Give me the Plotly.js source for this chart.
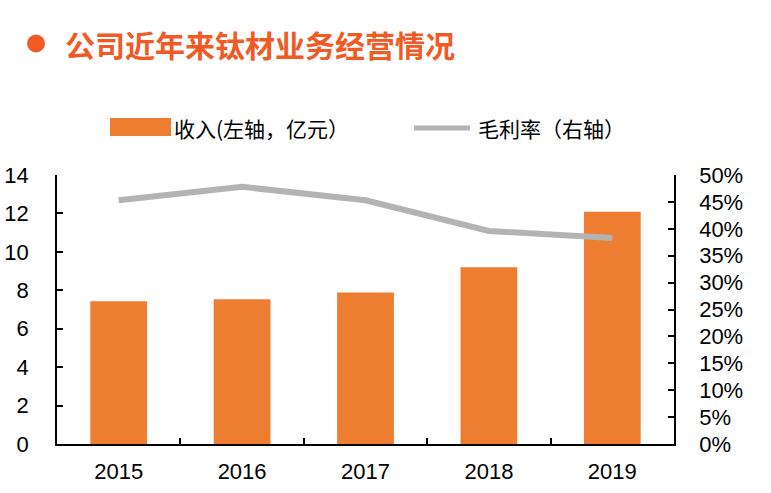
<!DOCTYPE html>
<html>
<head>
<meta charset="utf-8">
<script src="https://cdn.plot.ly/plotly-3.0.1.min.js"></script>
<style>
  html, body { margin: 0; padding: 0; background: #fff; }
  #chart { width: 771px; height: 493px; }
</style>
</head>
<body>
<div id="chart"></div>
<script>
// 公司近年来钛材业务经营情况 — revenue (bars, left) + gross margin (line, right)

const years = ['2015', '2016', '2017', '2018', '2019'];
const revenue = [7.43, 7.53, 7.88, 9.20, 12.09];      // 亿元
const grossMargin = [0.453, 0.478, 0.453, 0.396, 0.383];
const seriesNames = ['收入(左轴，亿元）', '毛利率（右轴）'];
const chartTitle = '公司近年来钛材业务经营情况';

const ORANGE = '#ED7D31';
const GREY = '#B3B3B3';
const TITLE_COLOR = '#F15A24';
const tickFont = { family: 'Liberation Sans, Arial, sans-serif', size: 22, color: '#000' };
const cjkFont = 'Noto Sans CJK SC, sans-serif';

// plot area in px, used to place the hand-made legend and title
const W = 771, H = 493;
const M = { l: 57, r: 97, t: 175, b: 49 };
const px = x => (x - M.l) / (W - M.l - M.r);
const py = y => (H - M.b - y) / (H - M.t - M.b);

const barTrace = {
  type: 'bar', x: years, y: revenue, name: seriesNames[0],
  marker: { color: ORANGE, line: { width: 0 } },
  hoverinfo: 'x+y'
};

const lineTrace = {
  type: 'scatter', mode: 'lines', x: years, y: grossMargin, name: seriesNames[1],
  yaxis: 'y2',
  line: { color: GREY, width: 6 },
  hoverinfo: 'x+y'
};

const layout = {
  width: W, height: H,
  margin: M,
  paper_bgcolor: '#fff', plot_bgcolor: '#fff',
  showlegend: false,
  bargap: 0.54,
  xaxis: {
    type: 'category',
    showline: true, linecolor: '#000', linewidth: 1.5,
    ticks: 'inside', tickson: 'boundaries', ticklen: 6, tickwidth: 1.5, tickcolor: '#000',
    tickfont: tickFont, ticklabelstandoff: 7,
    showgrid: false, zeroline: false
  },
  yaxis: {
    range: [0, 14], dtick: 2,
    showline: true, linecolor: '#000', linewidth: 1.5,
    ticks: 'inside', ticklen: 6, tickwidth: 1.5, tickcolor: '#000',
    tickfont: tickFont, ticklabelstandoff: 22,
    showgrid: false, zeroline: false
  },
  yaxis2: {
    overlaying: 'y', side: 'right',
    range: [0, 0.5], dtick: 0.05, tickformat: '.0%',
    showline: true, linecolor: '#000', linewidth: 1.5,
    ticks: 'inside', ticklen: 6, tickwidth: 1.5, tickcolor: '#000',
    tickfont: tickFont, ticklabelstandoff: 19,
    showgrid: false, zeroline: false
  },
  shapes: [
    // title bullet
    { type: 'circle', xref: 'paper', yref: 'paper',
      x0: px(27), x1: px(45), y0: py(52.5), y1: py(34.5),
      fillcolor: TITLE_COLOR, line: { width: 0 } },
    // legend swatches
    { type: 'rect', xref: 'paper', yref: 'paper',
      x0: px(110), x1: px(171), y0: py(136), y1: py(118),
      fillcolor: ORANGE, line: { width: 0 } },
    { type: 'line', xref: 'paper', yref: 'paper',
      x0: px(414), x1: px(470), y0: py(128), y1: py(128),
      line: { color: GREY, width: 5 } }
  ],
  annotations: [
    { text: chartTitle, xref: 'paper', yref: 'paper', x: px(63), y: py(44),
      xanchor: 'left', yanchor: 'middle', showarrow: false,
      font: { family: cjkFont, size: 30, color: TITLE_COLOR, weight: 'bold' } },
    { text: seriesNames[0], xref: 'paper', yref: 'paper', x: px(172), y: py(128),
      xanchor: 'left', yanchor: 'middle', showarrow: false,
      font: { family: cjkFont, size: 21, color: '#000' } },
    { text: seriesNames[1], xref: 'paper', yref: 'paper', x: px(476), y: py(128),
      xanchor: 'left', yanchor: 'middle', showarrow: false,
      font: { family: cjkFont, size: 21, color: '#000' } }
  ]
};

Plotly.newPlot('chart', [barTrace, lineTrace], layout, { displayModeBar: false, responsive: false });
</script>
</body>
</html>
